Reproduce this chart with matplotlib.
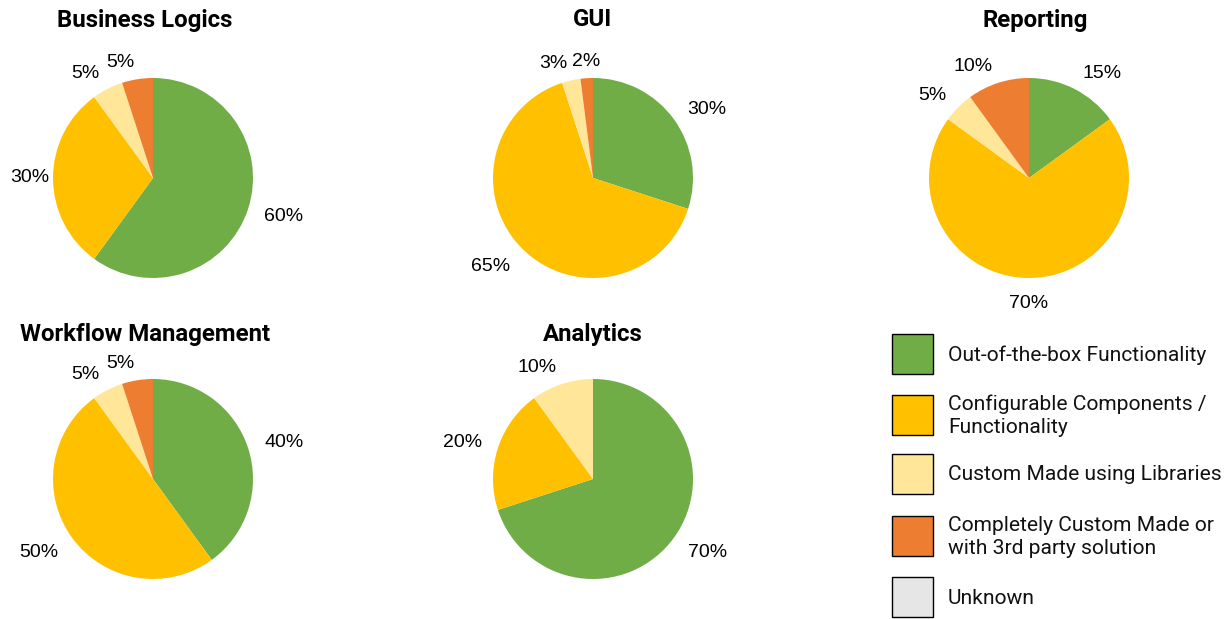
import numpy as np
import matplotlib
matplotlib.use("Agg")
import matplotlib.pyplot as plt
from matplotlib.patches import Rectangle

# --- data -------------------------------------------------------------
titles = ["Business Logics", "GUI", "Reporting", "Workflow Management", "Analytics"]
business_logics = [60, 30, 5, 5]
gui = [30, 65, 3, 2]
reporting = [15, 70, 5, 10]
workflow = [40, 50, 5, 5]
analytics = [70, 20, 10, 0]

categories = ["Out-of-the-box Functionality",
              "Configurable Components /\nFunctionality",
              "Custom Made using Libraries",
              "Completely Custom Made or\nwith 3rd party solution",
              "Unknown"]
colors = ["#70AD47", "#FFC000", "#FFE699", "#ED7D31", "#E7E6E6"]

# --- layout (pixels, origin top-left) ---------------------------------
W, H = 1229, 619
R = 100                                   # pie radius in px
PX = 1.0 / R                              # one pixel in pie data units
centers = [(153, 178), (593, 178), (1029, 178), (153, 479), (593, 479)]
title_pos = [(145, 20), (593, 20), (1035, 20), (145, 334), (593, 334)]
legend_tops = [334, 395, 454, 516, 577]
MARGIN = 10                               # keep labels inside the figure

fig = plt.figure(figsize=(W / 100, H / 100), dpi=100)
fig.patch.set_facecolor("white")

all_texts = []
series = [business_logics, gui, reporting, workflow, analytics]
for vals, (cx, cy), name, (tx, ty) in zip(series, centers, titles, title_pos):
    half = 1.25 * R                       # pie() sets limits to +-1.25
    ax = fig.add_axes([(cx - half) / W, (H - cy - half) / H, 2 * half / W, 2 * half / H])
    labels = [f"{v}%" if v > 0 else "" for v in vals]
    wedges, texts = ax.pie(vals, colors=colors[:len(vals)], labels=labels,
                           startangle=90, counterclock=False,
                           labeldistance=1.17,
                           wedgeprops=dict(linewidth=0),
                           textprops=dict(family="Liberation Sans", fontsize=14))
    for w, t in zip(wedges, texts):
        x, y = t.get_position()
        th = np.deg2rad((w.theta1 + w.theta2) / 2)
        if abs(x) < 0.15:
            t.set_ha("center")
        if np.sin(th) < 0:                # push lower labels clear of the rim
            y += 8 * PX * np.sin(th)
        t.set_position((x, y))
        all_texts.append(t)
    fig.text(tx / W, 1 - ty / H, name, ha="center", va="center",
             family="Roboto", fontweight="bold", fontsize=17.3)

# nudge any label that would run off the left edge
fig.canvas.draw()
for t in all_texts:
    bb = t.get_window_extent()
    if bb.x0 < MARGIN:
        x, y = t.get_position()
        t.set_position((x + (MARGIN - bb.x0) * PX, y))

# legend drawn in pixel coordinates
lax = fig.add_axes([0, 0, 1, 1], zorder=-1)
lax.set_xlim(0, W)
lax.set_ylim(H, 0)
lax.axis("off")
for top, lab, col in zip(legend_tops, categories, colors):
    lax.add_patch(Rectangle((892, top), 41, 40, facecolor=col,
                            edgecolor="black", linewidth=1))
    lax.text(948, top + 21, lab, ha="left", va="center", family="Roboto",
             fontsize=15.1, linespacing=1.25, color="#111111")

fig.savefig("out.png", dpi=100, facecolor="white")
